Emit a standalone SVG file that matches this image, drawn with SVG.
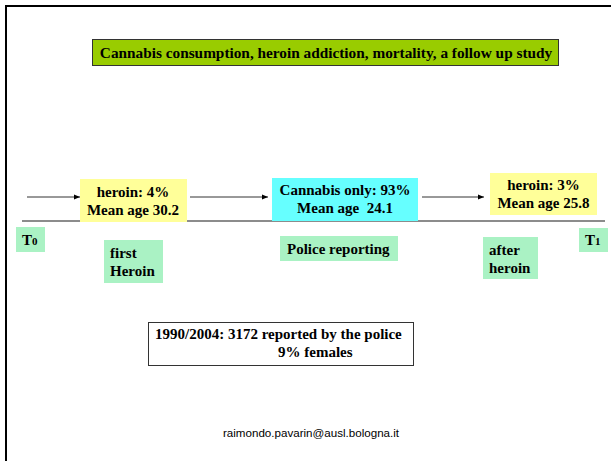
<svg xmlns="http://www.w3.org/2000/svg" width="611" height="461" viewBox="0 0 611 461">
<defs>
<marker id="ah" viewBox="0 0 10 10" refX="10" refY="5" markerWidth="6" markerHeight="6" markerUnits="userSpaceOnUse" orient="auto">
<path d="M0,1 L10,5 L0,9 Z" fill="#000"/>
</marker>
</defs>
<style>
.t{font-family:'Liberation Serif','Times New Roman',serif;font-weight:bold;fill:#000}
.lab{fill:#aaf2c4}
.arr{stroke:#333;stroke-width:1;fill:none;marker-end:url(#ah)}
</style>
<rect width="611" height="461" fill="#fff"/>
<g id="frame">
<line x1="6" y1="6" x2="611" y2="6" stroke="#000" stroke-width="2"/>
<line x1="6" y1="5" x2="6" y2="461" stroke="#000" stroke-width="2"/>
</g>
<g id="title">
<rect x="92.5" y="39.5" width="466" height="26" fill="#99cc00" stroke="#333" stroke-width="1"/>
<text class="t" x="326" y="57.5" text-anchor="middle" font-size="15.3">Cannabis consumption, heroin addiction, mortality, a follow up study</text>
</g>
<g id="connectors">
<line x1="22" y1="221" x2="605" y2="221" stroke="#666" stroke-width="1.5"/>
<line class="arr" x1="27" y1="197" x2="80" y2="197"/>
<line class="arr" x1="190" y1="197" x2="268" y2="197"/>
<line class="arr" x1="422" y1="197" x2="484" y2="197"/>
</g>
<g id="heroin1" font-size="15">
<rect x="80" y="179" width="107" height="43" fill="#ffff99"/>
<text class="t" x="133" y="197" text-anchor="middle">heroin: 4%</text>
<text class="t" x="133" y="215" text-anchor="middle">Mean age 30.2</text>
</g>
<g id="cannabis" font-size="15">
<rect x="272" y="178" width="146" height="43" fill="#66ffff"/>
<text class="t" x="345" y="195" text-anchor="middle">Cannabis only: 93%</text>
<text class="t" x="345" y="213" text-anchor="middle" xml:space="preserve">Mean age  24.1</text>
</g>
<g id="heroin3" font-size="15">
<rect x="490" y="173" width="107" height="42" fill="#ffff99"/>
<text class="t" x="543.5" y="190" text-anchor="middle">heroin: 3%</text>
<text class="t" x="543.5" y="208" text-anchor="middle">Mean age 25.8</text>
</g>
<g id="t0" font-size="15">
<rect class="lab" x="16" y="227" width="29" height="25"/>
<text class="t" x="22" y="245">T<tspan font-size="11">0</tspan></text>
</g>
<g id="firstHeroin" font-size="15">
<rect class="lab" x="104" y="240" width="59" height="43"/>
<text class="t" x="110" y="258">first</text>
<text class="t" x="110" y="276">Heroin</text>
</g>
<g id="police" font-size="15">
<rect class="lab" x="280" y="236" width="118" height="25"/>
<text class="t" x="287" y="254">Police reporting</text>
</g>
<g id="afterHeroin" font-size="15">
<rect class="lab" x="483" y="237" width="55" height="42"/>
<text class="t" x="489" y="255">after</text>
<text class="t" x="489" y="273">heroin</text>
</g>
<g id="t1" font-size="15">
<rect class="lab" x="579" y="228" width="29" height="24"/>
<text class="t" x="585" y="245">T<tspan font-size="11">1</tspan></text>
</g>
<g id="summary" font-size="15">
<rect x="148.5" y="322.5" width="265" height="43" fill="#fff" stroke="#333" stroke-width="1"/>
<text class="t" x="155" y="339">1990/2004: 3172 reported by the police</text>
<text class="t" x="278" y="357">9% females</text>
</g>
<g id="footer">
<text x="311" y="437" text-anchor="middle" font-family="Liberation Sans, Arial, sans-serif" font-size="11.6" fill="#000">raimondo.pavarin@ausl.bologna.it</text>
</g>
</svg>
